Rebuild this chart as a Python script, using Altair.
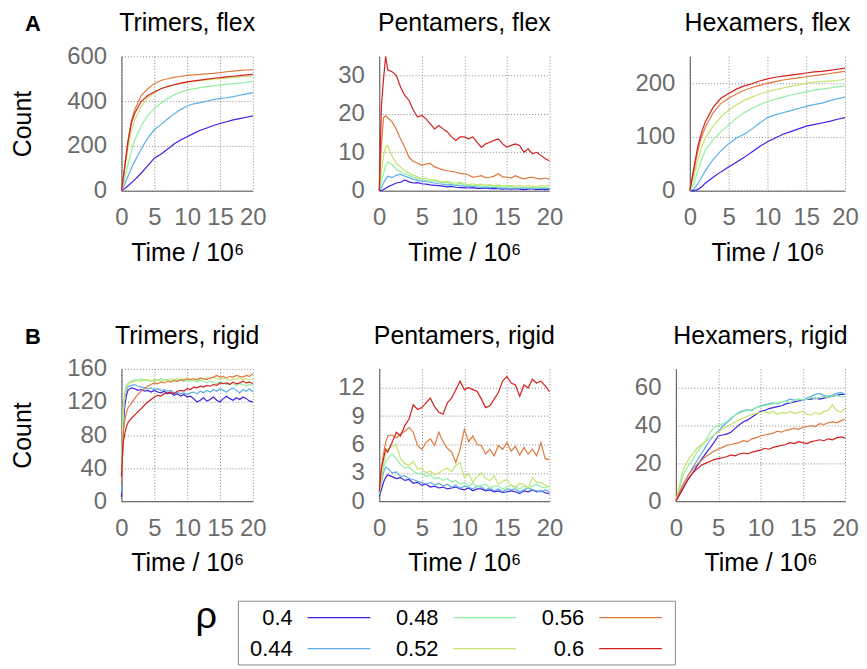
import altair as alt
import pandas as pd

FONT = "Liberation Sans"

RHO = ["0.4", "0.44", "0.48", "0.52", "0.56", "0.6"]
COLORS = ["#3d1fe8", "#5bafe8", "#91f0a3", "#c5e46f", "#e0793d", "#d41f1f"]

X_TICKS = [0, 5, 10, 15, 20]

# time grids (units of 10^6)
T_S = [0, 0.5, 1, 1.5, 2, 3, 4, 5, 6, 7, 8, 9, 10, 11, 12, 13, 14, 15, 16, 17, 18, 19, 20]
T_N = [0, 0.25, 0.5, 0.75, 1, 1.5, 2, 2.5, 3, 3.5, 4, 4.5, 5, 5.5, 6, 6.5, 7, 7.5, 8, 8.5,
       9, 9.5, 10, 10.5, 11, 11.5, 12, 12.5, 13, 13.5, 14, 14.5, 15, 15.5, 16, 16.5, 17,
       17.5, 18, 18.5, 19, 19.5, 20]

# ---- Trimers, flex (on T_S), series in RHO order
TRI_FLEX = [
    [0, 10, 22, 35, 48, 78, 112, 145, 163, 185, 208, 226, 241, 256, 270, 280, 291, 300, 308, 316, 322, 328, 334],
    [0, 30, 65, 100, 130, 185, 235, 272, 295, 320, 343, 362, 378, 388, 393, 400, 407, 412, 415, 420, 426, 432, 438],
    [0, 55, 120, 175, 225, 290, 335, 367, 390, 410, 428, 440, 449, 455, 460, 465, 468, 471, 475, 478, 481, 484, 487],
    [0, 95, 195, 265, 315, 375, 415, 437, 455, 465, 472, 478, 483, 488, 492, 495, 498, 500, 503, 506, 508, 510, 512],
    [0, 110, 225, 310, 360, 425, 455, 478, 492, 500, 506, 511, 515, 517, 519, 522, 524, 527, 531, 534, 537, 539, 541],
    [0, 105, 220, 300, 345, 398, 425, 441, 455, 465, 473, 480, 486, 490, 494, 498, 502, 505, 508, 511, 514, 517, 519],
]

# ---- Pentamers, flex (on T_N)
PENT_FLEX = [
    [0, 0.1, 0.3, 0.6, 1.0, 1.5, 2.0, 2.2, 2.8, 2.3, 2.0, 2.1, 1.8, 1.7, 1.5, 1.4, 1.3, 1.2, 1.0, 1.1,
     0.9, 0.8, 0.8, 0.7, 0.8, 0.6, 0.6, 0.7, 0.5, 0.6, 0.5, 0.4, 0.5, 0.4, 0.5, 0.4, 0.3, 0.4, 0.5, 0.3,
     0.4, 0.3, 0.4],
    [0, 0.8, 2.0, 3.0, 3.8, 3.4, 4.0, 4.3, 3.8, 3.4, 3.0, 2.7, 2.5, 2.4, 2.2, 2.0, 1.8, 1.7, 1.5, 1.6,
     1.4, 1.3, 1.2, 1.1, 1.2, 1.0, 0.9, 1.0, 0.8, 0.9, 0.7, 0.8, 0.7, 0.6, 0.7, 0.6, 0.7, 0.5, 0.6, 0.7,
     0.5, 0.6, 0.6],
    [0, 2.5, 4.5, 6.5, 7.5, 6.8, 5.6, 5.0, 4.4, 4.0, 3.5, 3.2, 3.0, 2.6, 2.4, 2.6, 2.2, 2.0, 2.1, 1.8,
     1.6, 1.9, 1.5, 1.4, 1.3, 1.5, 1.2, 1.1, 1.3, 1.0, 1.1, 0.9, 1.0, 1.1, 0.8, 0.9, 1.0, 0.8, 0.9, 0.7,
     0.9, 0.8, 0.9],
    [0, 5, 9, 11.5, 11.8, 9, 7.2, 6.1, 5.2, 4.6, 4.0, 3.6, 3.1, 3.3, 2.7, 2.9, 2.5, 2.3, 2.4, 2.1,
     2.0, 2.2, 1.8, 1.6, 1.8, 1.5, 1.7, 1.4, 1.6, 1.3, 1.5, 1.2, 1.4, 1.3, 1.2, 1.4, 1.1, 1.3, 1.2, 1.0,
     1.3, 1.2, 1.5],
    [0, 12, 19, 19.5, 19, 18, 16, 13.5, 11.3, 8.7, 7.6, 7.2, 6.6, 6.9, 7.1, 6.2, 5.8, 5.4, 5.2, 5.0,
     4.8, 4.5, 4.4, 4.1, 3.5, 3.7, 3.9, 3.4, 3.5, 3.8, 4.4, 3.6, 3.5, 3.3, 3.9, 3.4, 3.0, 3.4, 3.5, 3.2,
     3.0, 3.3, 3.0],
    [0, 22, 29, 35, 31.5, 31, 30, 27, 24.8, 23.5, 21, 19.2, 19.6, 18.7, 17.4, 16.1, 17, 16.1, 15.3, 14,
     13.1, 14, 14, 13.5, 14, 12.6, 11.3, 12.2, 12.6, 13.1, 13.5, 12.2, 11.3, 11.8, 12.2, 11.8, 10, 10.9,
     9.6, 10, 9.2, 8.3, 7.8],
]

# ---- Hexamers, flex (on T_S)
HEX_FLEX = [
    [0, 0, 2, 7, 14, 25, 35, 44, 53, 62, 72, 82, 91, 98, 105, 110, 115, 120, 123, 126, 129, 133, 136],
    [0, 3, 12, 24, 37, 58, 74, 87, 98, 105, 115, 126, 136, 141, 145, 149, 153, 157, 160, 163, 167, 171, 174],
    [0, 12, 35, 57, 75, 95, 110, 122, 135, 145, 153, 160, 166, 170, 174, 178, 181, 184, 187, 189, 191, 193, 195],
    [0, 25, 55, 80, 98, 120, 137, 150, 160, 168, 174, 180, 184, 188, 191, 194, 197, 200, 202, 203, 204, 205, 207],
    [0, 35, 72, 100, 118, 145, 162, 172, 180, 187, 192, 196, 200, 203, 206, 208, 210, 212, 214, 216, 218, 220, 222],
    [0, 40, 80, 108, 128, 155, 172, 181, 189, 195, 199, 204, 208, 211, 213, 215, 217, 219, 221, 222, 224, 226, 228],
]

# ---- Trimers, rigid (on T_N)
TRI_RIGID = [
    [5, 90, 115, 128, 134, 137, 136, 134, 135, 133, 134, 132, 134, 132, 131, 133, 130, 131, 128, 130,
     127, 129, 126, 127, 124, 120, 122, 125, 121, 123, 126, 122, 120, 124, 127, 124, 122, 125, 123, 126,
     124, 121, 120],
    [10, 100, 125, 134, 138, 140, 141, 139, 138, 137, 136, 137, 135, 136, 134, 135, 133, 134, 131, 132,
     130, 131, 129, 131, 132, 130, 133, 131, 134, 132, 135, 133, 136, 134, 132, 135, 137, 134, 131, 135,
     133, 136, 132],
    [20, 110, 132, 140, 143, 145, 147, 146, 148, 146, 147, 145, 147, 146, 148, 146, 147, 145, 146, 148,
     146, 145, 147, 145, 146, 144, 146, 145, 143, 145, 144, 142, 144, 143, 141, 143, 142, 140, 142, 141,
     139, 141, 140],
    [25, 105, 128, 137, 141, 144, 145, 146, 145, 147, 146, 145, 146, 147, 145, 147, 146, 148, 147, 146,
     148, 147, 149, 147, 148, 146, 148, 147, 149, 148, 150, 148, 147, 149, 148, 146, 148, 147, 149, 147,
     148, 146, 148],
    [20, 80, 98, 107, 113, 118, 124, 129, 133, 136, 139, 141, 143, 142, 144, 143, 145, 144, 146, 145,
     147, 146, 148, 147, 148, 147, 149, 148, 147, 149, 150, 152, 150, 151, 149, 151, 150, 152, 151, 150,
     152, 151, 154],
    [30, 70, 82, 90, 95, 100, 104, 108, 112, 116, 120, 123, 126, 128, 127, 130, 131, 132, 130, 133,
     134, 133, 136, 135, 138, 137, 139, 138, 140, 139, 141, 140, 143, 142, 143, 141, 144, 142, 143, 145,
     143, 144, 142],
]

# ---- Pentamers, rigid (on T_N)
PENT_RIGID = [
    [0.5, 1.2, 2.0, 2.5, 2.8, 2.6, 2.4, 2.5, 2.2, 2.3, 1.9, 2.0, 1.7, 1.8, 1.5, 1.6, 1.4, 1.5, 1.3, 1.4,
     1.5, 1.3, 1.2, 1.4, 1.1, 1.3, 1.3, 1.1, 1.2, 1.0, 1.1, 0.9, 1.0, 1.1, 1.0, 0.8, 1.1, 1.0, 1.2, 1.0,
     1.1, 0.9, 0.8],
    [0.7, 2.0, 3.0, 3.6, 3.5, 3.0, 3.1, 2.6, 2.7, 2.4, 2.3, 2.1, 2.0, 1.8, 2.0, 1.7, 1.9, 1.6, 1.8, 1.5,
     1.7, 1.4, 1.6, 1.5, 1.3, 1.6, 1.5, 1.2, 1.4, 1.1, 1.3, 1.0, 1.3, 1.2, 1.3, 1.0, 1.2, 1.4, 1.2, 1.1,
     1.0, 1.2, 1.0],
    [0.8, 2.2, 3.5, 4.2, 4.5, 5.0, 4.5, 3.9, 3.5, 3.6, 3.2, 2.9, 3.0, 2.6, 2.8, 2.4, 2.5, 2.2, 2.4, 2.0,
     2.2, 1.8, 2.0, 1.6, 1.9, 1.5, 1.7, 1.8, 1.4, 1.6, 1.6, 1.3, 1.5, 1.7, 1.5, 1.3, 1.6, 1.4, 1.6, 1.8,
     1.5, 1.4, 1.6],
    [1.0, 2.5, 4.0, 5.0, 5.5, 5.8, 6.0, 4.5, 4.0, 3.8, 4.2, 3.4, 3.5, 3.0, 3.2, 2.8, 3.0, 3.3, 3.5, 3.1,
     3.8, 4.1, 2.5, 2.9, 2.0, 2.6, 3.0, 2.4, 2.2, 2.7, 1.8, 2.1, 2.3, 1.7, 1.5, 1.9, 1.8, 1.4, 2.5, 2.0,
     2.0, 1.7, 1.5],
    [1.5, 3.5, 5.0, 6.2, 6.9, 7.0, 6.7, 7.1, 7.4, 7.8, 7.3, 5.9, 5.5, 6.2, 6.6, 5.9, 7.3, 6.3, 5.6, 5.2,
     4.1, 5.5, 7.6, 6.3, 6.9, 6.0, 5.9, 5.0, 5.5, 4.8, 5.9, 5.5, 6.2, 5.3, 5.8, 4.9, 5.7, 5.0, 5.5, 4.8,
     6.2, 4.5, 4.4],
    [1.0, 3.5, 4.5, 5.5, 5.2, 6.2, 7.3, 6.9, 8.0, 8.7, 10.2, 9.7, 9.9, 10.4, 10.9, 10.0, 9.4, 9.2, 10.4,
     10.9, 11.8, 12.7, 11.8, 12.0, 11.8, 11.6, 10.8, 9.9, 10.1, 10.8, 11.5, 12.7, 13.2, 12.5, 12.3, 11.1,
     12.3, 12.0, 12.9, 12.5, 12.7, 12.2, 11.6],
]

# ---- Hexamers, rigid (on T_N)
HEX_RIGID = [
    [0, 2, 4, 6, 8, 12, 15, 18.5, 22, 25, 28, 31, 34.5, 35, 35.5, 36.5, 38.5, 40.5, 42, 43,
     44.5, 46, 47.5, 48, 49, 49.5, 50, 50.5, 51.5, 52, 52.5, 53, 53.5, 54, 54, 54.5, 54, 54.5, 55, 55.5,
     56, 56.5, 56.5],
    [0, 2.5, 5, 8, 10, 14, 18, 21.5, 25, 28.5, 32, 35, 37, 39.5, 41.5, 43.5, 45.5, 47, 48, 48.5,
     48, 49.5, 50.5, 51, 51.5, 52, 51.5, 52.5, 53, 54, 53.5, 54, 53.5, 54.5, 55.5, 56.5, 57, 56, 55.5, 56,
     57, 57.5, 56.5],
    [0, 4, 8, 12, 15, 19, 22, 26, 29, 32, 36, 39, 40, 41, 42, 44, 45.5, 46.5, 47.5, 48,
     48.5, 49.5, 50, 50.5, 51, 51.5, 52, 52.5, 53, 52, 53.5, 54, 53.5, 54, 55, 54, 55, 55.5, 54.5, 55.5,
     56, 55, 55.5],
    [0, 5, 10, 15, 18, 22, 25, 28, 30, 31.5, 33.5, 35, 36.5, 38, 39.5, 40.5, 42, 43, 44, 45,
     46, 46.5, 47, 47.5, 46.5, 47.5, 46, 47, 46.5, 47.5, 46.5, 47, 47.5, 46, 45.5, 47, 46, 47.5, 48, 51,
     48, 47, 49],
    [0, 3, 5.5, 8, 10, 14, 17, 19.5, 21.5, 23.5, 25, 26.5, 27.5, 28.5, 29.5, 30, 30.5, 31, 32, 31.5,
     33, 33.5, 34.5, 35, 35.5, 36, 37, 36.5, 37.5, 38, 38.5, 38, 39, 39.5, 40, 39.5, 41, 40.5, 41.5, 42,
     41.5, 42.5, 43.5],
    [0, 2, 4, 6, 8, 12, 15, 17, 19, 20, 21, 22, 22.5, 23, 23.5, 24.5, 24, 25, 25.5, 25,
     26, 26.5, 27, 28, 27.5, 28.5, 29, 29.5, 30, 31, 30.5, 31.5, 31, 30.5, 31.5, 32, 32.5, 32, 33, 32.5,
     33.5, 34, 33.5],
]

COLOR_SCALE = alt.Scale(domain=RHO, range=COLORS)


def panel(name, times, series, ymax, yticks, width, height, letter=None):
    rows = []
    for rho, vals in zip(RHO, series):
        assert len(vals) == len(times), (name, rho, len(vals))
        for t, v in zip(times, vals):
            rows.append({"t": t, "v": v, "rho": rho})
    df = pd.DataFrame(rows)

    if letter:
        yaxis = alt.Axis(values=yticks, title="Count", titleX=-91, titleBaseline="alphabetic")
    else:
        yaxis = alt.Axis(values=yticks, title=None)

    lines = alt.Chart(df).mark_line(strokeWidth=1.2).encode(
        x=alt.X("t:Q", scale=alt.Scale(domain=[0, 20], nice=False, zero=False),
                axis=alt.Axis(values=X_TICKS, title="Time / 10⁶", titleY=70,
                              titleBaseline="alphabetic")),
        y=alt.Y("v:Q", scale=alt.Scale(domain=[0, ymax], nice=False), axis=yaxis),
        color=alt.Color("rho:N", scale=COLOR_SCALE, legend=None),
    )
    title = alt.Chart(pd.DataFrame({"label": [name]})).mark_text(
        font=FONT, fontSize=25, baseline="alphabetic", align="center", color="black"
    ).encode(text="label:N", x=alt.value(width / 2), y=alt.value(-25))
    layers = [lines, title]
    if letter:
        layers.append(
            alt.Chart(pd.DataFrame({"label": [letter]})).mark_text(
                font=FONT, fontSize=22, fontWeight="bold", baseline="alphabetic",
                align="center", color="black"
            ).encode(text="label:N", x=alt.value(-89), y=alt.value(-25))
        )
    return alt.layer(*layers).properties(width=width, height=height)


p11 = panel("Trimers, flex", T_S, TRI_FLEX, 600, [0, 200, 400, 600], 132, 135, letter="A")
p12 = panel("Pentamers, flex", T_N, PENT_FLEX, 35, [0, 10, 20, 30], 171, 135)
p13 = panel("Hexamers, flex", T_S, HEX_FLEX, 250, [0, 100, 200], 156, 135)
p21 = panel("Trimers, rigid", T_N, TRI_RIGID, 160, [0, 40, 80, 120, 160], 132, 133, letter="B")
p22 = panel("Pentamers, rigid", T_N, PENT_RIGID, 14, [0, 3, 6, 9, 12], 171, 133)
p23 = panel("Hexamers, rigid", T_N, HEX_RIGID, 70, [0, 20, 40, 60], 170, 133)

row1 = alt.hconcat(p11, p12, p13, spacing=71)
row2 = alt.hconcat(p21, p22, p23, spacing=71)

# ---- legend (label left of its line, column-major order)
leg_df = pd.DataFrame({
    "rho": RHO,
    "col": [i // 2 for i in range(len(RHO))],
    "row": [i % 2 for i in range(len(RHO))],
})
leg_x = alt.Scale(domain=[-0.3754, 2.6212], nice=False, zero=False)
leg_y = alt.Scale(domain=[-0.548, 1.516], nice=False, zero=False, reverse=True)
leg_base = alt.Chart(leg_df).transform_calculate(
    x0="datum.col + 0.1024", x1="datum.col + 0.5324"
)
leg_text = leg_base.mark_text(
    font=FONT, fontSize=22, align="right", baseline="middle", color="black"
).encode(
    x=alt.X("col:Q", scale=leg_x, axis=None),
    y=alt.Y("row:Q", scale=leg_y, axis=None),
    text="rho:N",
)
leg_lines = leg_base.mark_rule(strokeWidth=1.3).encode(
    x=alt.X("x0:Q", scale=leg_x, axis=None),
    x2="x1:Q",
    y=alt.Y("row:Q", scale=leg_y, axis=None),
    color=alt.Color("rho:N", scale=COLOR_SCALE, legend=None),
)
legend = alt.layer(leg_text, leg_lines).properties(
    width=439, height=64, view=alt.ViewBackground(stroke="#8a8a8a", strokeWidth=1)
)
rho_sym = alt.Chart(pd.DataFrame({"s": ["ρ"]})).mark_text(
    font=FONT, fontSize=38, align="right", baseline="alphabetic", color="black"
).encode(text="s:N", x=alt.value(96), y=alt.value(27)).properties(width=116, height=64)

row3 = alt.hconcat(rho_sym, legend, spacing=0)

chart = alt.vconcat(
    alt.vconcat(row1, row2, spacing=59), row3, spacing=22
).properties(
    padding={"left": 3, "top": 2, "right": 0, "bottom": 0}
).configure_view(
    strokeWidth=0
).configure_axis(
    labelFont=FONT, labelFontSize=24, labelColor="#6b6b6b",
    titleFont=FONT, titleFontSize=25, titleColor="black", titleFontWeight="normal",
    grid=True, gridColor="#858585", gridDash=[1, 2], gridWidth=1, gridOpacity=1,
    domain=True, domainColor="#555555", domainWidth=1,
    ticks=False, tickSize=0, labelPadding=15,
    labelFlush=False, labelOverlap=False, labelBound=False,
)

chart.save("out.html", embed_options={"renderer": "svg", "actions": False})
